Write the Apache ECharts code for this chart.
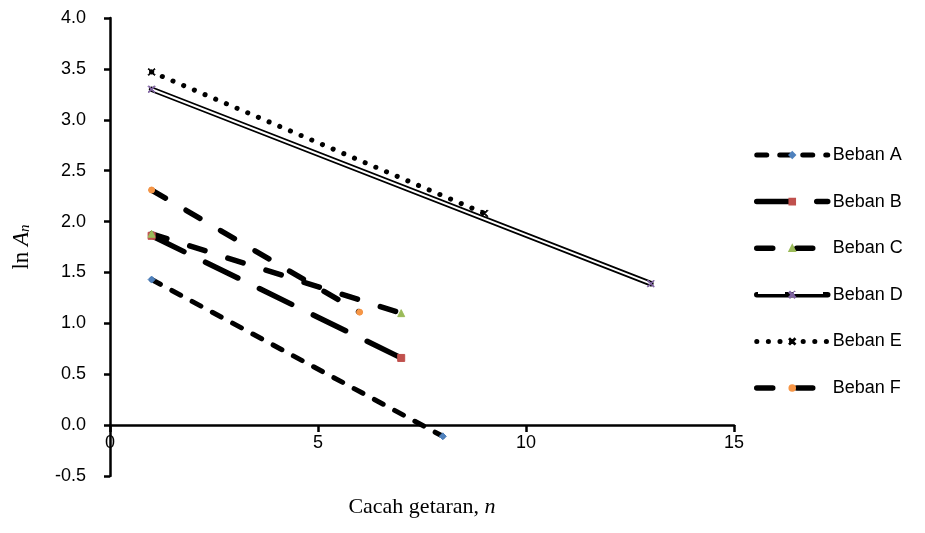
<!DOCTYPE html>
<html>
<head>
<meta charset="utf-8">
<script src="https://cdn.jsdelivr.net/npm/echarts@6/dist/echarts.min.js"></script>
<style>
  html, body { margin: 0; padding: 0; background: #fff; }
  #chart { width: 925px; height: 533px; }
</style>
</head>
<body>
<div id="chart"></div>
<script>
// data: [n, ln An] at the two ends of each line
var bebanA = [[1, 1.43], [8, -0.11]]
var bebanB = [[1, 1.86], [7, 0.66]]
var bebanC = [[1, 1.88], [7, 1.10]]
var bebanD = [[1, 3.30], [13, 1.39]]
var bebanE = [[1, 3.47], [9, 2.08]]
var bebanF = [[1, 2.31], [6, 1.11]]
var legendNames = ['Beban A', 'Beban B', 'Beban C', 'Beban D', 'Beban E', 'Beban F']

var xMark = 'path://M1,0 L5,4 L9,0 L10,1 L6,5 L10,9 L9,10 L5,6 L1,10 L0,9 L4,5 L0,1 Z'

// dash patterns, kept apart so plot and legend use the same ones
var styles = {
  'Beban A': { width: 5, type: [10, 13] },
  'Beban B': { width: 5.5, type: [36, 24] },
  'Beban C': { width: 5.5, type: [16, 24] },
  'Beban D': { width: 5.5, type: 'solid' },
  'Beban E': { width: 5, type: [0.1, 11.5] },
  'Beban F': { width: 5.5, type: [16, 24] }
}

var chart = echarts.init(document.getElementById('chart'))

function lineSeries (name, data, lineStyle, symbol, color, size, z) {
  return {
    name: name,
    type: 'line',
    z: z || 2,
    data: data,
    symbol: symbol,
    symbolSize: size || 6,
    showSymbol: true,
    itemStyle: { color: color, borderColor: color, borderWidth: 1 },
    lineStyle: Object.assign({ color: '#000', cap: 'round' }, lineStyle),
    emphasis: { disabled: true },
    animation: false
  }
}

chart.setOption({
  backgroundColor: '#fff',
  grid: { left: 110, right: 191, top: 18, bottom: 57, outerBoundsMode: 'none', containLabel: false },
  legend: {
    data: legendNames.map(function (n) {
      return { name: n, lineStyle: Object.assign({ color: '#000', cap: 'round' }, styles[n]) }
    }),
    orient: 'vertical',
    left: 749,
    top: 141,
    itemWidth: 71,
    itemHeight: 7,
    itemGap: 28.6,
    textStyle: { fontFamily: 'Liberation Sans', fontSize: 18, color: '#000' }
  },
  // inner white stroke of the double line in the Beban D legend key (split round the marker)
  graphic: [{
    type: 'line',
    shape: { x1: 758, y1: 293, x2: 785, y2: 293 },
    style: { stroke: '#fff', lineWidth: 2 },
    z: 100
  }, {
    type: 'line',
    shape: { x1: 794, y1: 293, x2: 823, y2: 293 },
    style: { stroke: '#fff', lineWidth: 2 },
    z: 100
  }],
  xAxis: {
    type: 'value',
    min: 0,
    max: 15,
    interval: 5,
    name: 'Cacah getaran, {i|n}',
    nameLocation: 'middle',
    nameGap: 20,
    nameMoveOverlap: false,
    nameTextStyle: {
      fontFamily: 'Liberation Serif', fontSize: 22, color: '#000',
      rich: { i: { fontFamily: 'Liberation Serif', fontSize: 22, fontStyle: 'italic', color: '#000' } }
    },
    splitLine: { show: false },
    axisLine: { onZero: true, lineStyle: { color: '#000', width: 2.5 } },
    axisTick: { length: 7, lineStyle: { color: '#000', width: 2.5 } },
    axisLabel: { margin: -42, fontFamily: 'Liberation Sans', fontSize: 18, color: '#000' }
  },
  yAxis: {
    type: 'value',
    min: -0.5,
    max: 4.0,
    interval: 0.5,
    name: 'ln {i|A}{s|n}',
    nameLocation: 'middle',
    nameRotate: 90,
    nameGap: 77,
    nameTextStyle: {
      fontFamily: 'Liberation Serif', fontSize: 23, color: '#000',
      rich: {
        i: { fontFamily: 'Liberation Serif', fontSize: 23, fontStyle: 'italic', color: '#000' },
        s: { fontFamily: 'Liberation Serif', fontSize: 15, fontStyle: 'italic', color: '#000', verticalAlign: 'bottom', padding: [8, 0, 0, 0] }
      }
    },
    splitLine: { show: false },
    axisLine: { onZero: false, lineStyle: { color: '#000', width: 2.5 } },
    axisTick: { length: 6, lineStyle: { color: '#000', width: 2.5 } },
    axisLabel: {
      margin: 24, fontFamily: 'Liberation Sans', fontSize: 18, color: '#000',
      formatter: function (v) { return v.toFixed(1) }
    }
  },
  series: [
    lineSeries('Beban A', bebanA, styles['Beban A'], 'diamond', '#4f81bd', 7),
    lineSeries('Beban B', bebanB, styles['Beban B'], 'rect', '#c0504d', 7),
    lineSeries('Beban C', bebanC, styles['Beban C'], 'triangle', '#9bbb59', 7),
    // double line: white core (with marker) drawn above a thick black stroke
    lineSeries('Beban D', bebanD, { width: 2, type: 'solid', color: '#fff' }, xMark, '#8064a2', 7, 3),
    lineSeries('Beban D', bebanD, styles['Beban D'], 'none', '#000', 6, 2),
    lineSeries('Beban E', bebanE, styles['Beban E'], xMark, '#000', 7),
    lineSeries('Beban F', bebanF, styles['Beban F'], 'circle', '#f79646', 6)
  ]
})
</script>
</body>
</html>
